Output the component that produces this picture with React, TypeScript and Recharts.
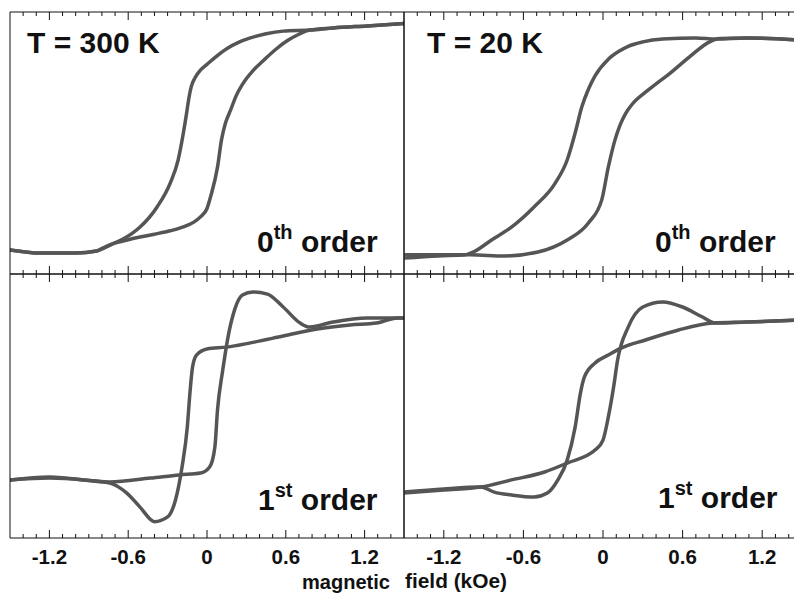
import React from 'react';
import { LineChart, Line, XAxis, YAxis } from 'recharts';

// ---------- tick data ----------
const MAJOR_TICKS = [-1.2, -0.6, 0, 0.6, 1.2];
const TICK_LABELS = ['-1.2', '-0.6', '0', '0.6', '1.2'];
const ALL_TICKS = [
  -1.4, -1.3, -1.2, -1.1, -1.0, -0.9, -0.8, -0.7, -0.6, -0.5, -0.4, -0.3, -0.2, -0.1, 0,
  0.1, 0.2, 0.3, 0.4, 0.5, 0.6, 0.7, 0.8, 0.9, 1.0, 1.1, 1.2, 1.3, 1.4,
];

// ---------- series: [field (kOe), signal (a.u., 0-100 of panel)] ----------
// T = 300 K, 0th order
const T300_ORDER0_DESC: [number, number][] = [
  [-1.5, 9.2], [-1.27, 8.0], [-1.0, 8.0], [-0.84, 8.8], [-0.78, 10.0], [-0.72, 11.5],
  [-0.64, 13.3], [-0.51, 17.9], [-0.38, 25.6], [-0.28, 34.7], [-0.22, 43.5], [-0.18, 53.8],
  [-0.155, 61.5], [-0.14, 66.5], [-0.12, 71.5], [-0.09, 75.0], [-0.05, 77.8], [0, 80.0],
  [0.06, 82.6], [0.15, 86.0], [0.24, 88.4], [0.33, 90.1], [0.45, 91.7], [0.58, 92.7],
  [0.78, 93.1], [0.96, 93.9], [1.22, 94.7], [1.5, 95.6],
];
const T300_ORDER0_ASC: [number, number][] = [
  [-1.5, 9.2], [-1.27, 8.0], [-1.0, 8.0], [-0.84, 8.8], [-0.79, 10.0], [-0.74, 11.1],
  [-0.68, 12.1], [-0.6, 13.1], [-0.5, 14.2], [-0.4, 15.2], [-0.28, 16.5], [-0.18, 18.0],
  [-0.1, 19.8], [-0.05, 21.8], [0.0, 25.0], [0.03, 30.0], [0.08, 40.8], [0.11, 51.1],
  [0.14, 57.5], [0.18, 62.6], [0.22, 67.8], [0.27, 72.4], [0.35, 77.6], [0.43, 81.5],
  [0.52, 85.6], [0.61, 89.0], [0.7, 91.5], [0.78, 93.1], [0.96, 93.9], [1.22, 94.7],
  [1.5, 95.6],
];
// T = 20 K, 0th order
const T20_ORDER0_DESC: [number, number][] = [
  [-1.5, 6.1], [-1.24, 6.9], [-1.04, 7.3], [-0.97, 8.6], [-0.84, 13.0], [-0.69, 17.9],
  [-0.52, 25.6], [-0.36, 34.7], [-0.27, 43.5], [-0.21, 53.8], [-0.16, 63.7], [-0.11, 70.5],
  [-0.06, 75.6], [0.04, 82.0], [0.12, 85.0], [0.19, 86.9], [0.3, 88.6], [0.45, 89.7],
  [0.7, 90.1], [0.85, 89.7], [1.08, 90.1], [1.5, 89.2],
];
const T20_ORDER0_ASC: [number, number][] = [
  [-1.5, 7.3], [-1.24, 7.3], [-1.0, 7.3], [-0.74, 6.9], [-0.49, 8.4], [-0.27, 13.0],
  [-0.11, 19.5], [-0.01, 28.2], [0.04, 40.8], [0.09, 51.1], [0.13, 57.0], [0.17, 61.2],
  [0.22, 64.8], [0.32, 69.4], [0.4, 72.6], [0.49, 76.0], [0.65, 82.8], [0.8, 88.5],
  [0.88, 89.9], [1.08, 90.1], [1.5, 89.2],
];
// T = 300 K, 1st order
const T300_ORDER1_DIP: [number, number][] = [
  [-1.5, 22.0], [-1.2, 22.7], [-0.94, 22.0], [-0.74, 20.8], [-0.61, 17.0], [-0.51, 11.7],
  [-0.4, 6.2], [-0.3, 8.0], [-0.24, 14.4], [-0.19, 26.9], [-0.15, 42.0], [-0.13, 54.9],
  [-0.11, 64.8], [-0.08, 69.3], [0, 71.6], [0.15, 72.3], [0.33, 73.9], [0.58, 76.5],
  [0.84, 79.2], [1.09, 80.7], [1.29, 81.4], [1.45, 83.3], [1.5, 83.3],
];
const T300_ORDER1_PEAK: [number, number][] = [
  [-1.5, 22.0], [-1.2, 23.1], [-0.74, 21.2], [-0.43, 22.7], [-0.21, 23.9], [-0.05, 24.6],
  [0.02, 26.9], [0.06, 34.5], [0.08, 48.5], [0.12, 63.6], [0.16, 76.1], [0.21, 86.4],
  [0.27, 92.0], [0.35, 93.2], [0.46, 92.4], [0.58, 87.5], [0.71, 81.4], [0.78, 79.9],
  [0.96, 81.8], [1.22, 83.3], [1.5, 83.3],
];
// T = 20 K, 1st order
const T20_ORDER1_DIP: [number, number][] = [
  [-1.5, 17.4], [-1.2, 18.6], [-0.92, 19.3], [-0.82, 17.4], [-0.69, 16.3], [-0.52, 15.5],
  [-0.42, 17.0], [-0.34, 22.0], [-0.27, 29.5], [-0.21, 42.0], [-0.17, 54.9], [-0.14, 61.0],
  [-0.06, 66.3], [0.04, 69.3], [0.14, 72.0], [0.32, 75.0], [0.57, 78.8], [0.83, 81.4],
  [1.08, 81.8], [1.5, 82.6],
];
const T20_ORDER1_PEAK: [number, number][] = [
  [-1.5, 17.0], [-1.2, 18.2], [-0.92, 19.3], [-0.69, 22.0], [-0.44, 25.0], [-0.27, 28.4],
  [-0.06, 33.3], [0, 37.1], [0.04, 45.8], [0.08, 57.2], [0.11, 67.4], [0.19, 79.9],
  [0.3, 87.5], [0.45, 89.4], [0.6, 87.5], [0.75, 83.7], [0.85, 81.4], [1.08, 81.8],
  [1.5, 82.6],
];

const toPts = (arr: [number, number][]) => arr.map(([x, y]) => ({ x, y }));

const INK = '#111';
const CURVE = '#555';
const FONT = '"Liberation Sans", Arial, Helvetica, sans-serif';
const M = 2; // chart margin
const AX = 1; // thin axis band

const isMajor = (v: number) => MAJOR_TICKS.some((m) => Math.abs(m - v) < 1e-6);

const makeBottomTick = (showLabels: boolean) => (props: any) => {
  const { x, y, payload } = props;
  const v = payload.value as number;
  const major = isMajor(v);
  const idx = MAJOR_TICKS.findIndex((m) => Math.abs(m - v) < 1e-6);
  return (
    <g>
      <line x1={x} x2={x} y1={y} y2={y - (major ? 8 : 4)} stroke={INK} strokeWidth={1} />
      {showLabels && major && (
        <text
          x={x}
          y={y + 26}
          textAnchor="middle"
          fontFamily={FONT}
          fontWeight="bold"
          fontSize={20.5}
          fill={INK}
        >
          {TICK_LABELS[idx]}
        </text>
      )}
    </g>
  );
};

const TopTick = (props: any) => {
  const { x, y, payload } = props;
  const major = isMajor(payload.value);
  return <line x1={x} x2={x} y1={y} y2={y + (major ? 8 : 4)} stroke={INK} strokeWidth={1} />;
};

type PanelProps = {
  left: number;
  top: number;
  w: number;
  h: number;
  series: [number, number][][];
  labels: boolean;
};

const Panel = ({ left, top, w, h, series, labels }: PanelProps) => {
  const bottomH = labels ? 40 : AX;
  return (
    <div style={{ position: 'absolute', left: left - M - AX, top: top - M - AX }}>
      <LineChart
        width={w + 2 * M + 2 * AX}
        height={h + 2 * M + AX + bottomH}
        margin={{ top: M, right: M, bottom: M, left: M }}
        style={{ overflow: 'visible' }}
      >
        <XAxis
          xAxisId={0}
          dataKey="x"
          type="number"
          domain={[-1.5, 1.5]}
          allowDataOverflow
          ticks={ALL_TICKS}
          interval={0}
          height={bottomH}
          tickSize={0}
          tickMargin={0}
          tickLine={false}
          axisLine={{ stroke: INK, strokeWidth: 1 }}
          tick={makeBottomTick(labels)}
        />
        <XAxis
          xAxisId="top"
          orientation="top"
          dataKey="x"
          type="number"
          domain={[-1.5, 1.5]}
          allowDataOverflow
          ticks={ALL_TICKS}
          interval={0}
          height={AX}
          tickSize={0}
          tickMargin={0}
          tickLine={false}
          axisLine={{ stroke: INK, strokeWidth: 1 }}
          tick={TopTick}
        />
        <YAxis
          yAxisId={0}
          type="number"
          domain={[0, 100]}
          width={AX}
          tick={false}
          tickLine={false}
          axisLine={{ stroke: INK, strokeWidth: 1 }}
        />
        <YAxis
          yAxisId="r"
          orientation="right"
          type="number"
          domain={[0, 100]}
          width={AX}
          tick={false}
          tickLine={false}
          axisLine={{ stroke: INK, strokeWidth: 1 }}
        />
        {series.map((s, i) => (
          <Line
            key={i}
            xAxisId={0}
            yAxisId={0}
            data={toPts(s)}
            dataKey="y"
            type="monotone"
            dot={false}
            activeDot={false}
            stroke={CURVE}
            strokeWidth={3.5}
            strokeLinejoin="round"
            strokeLinecap="round"
            isAnimationActive={false}
          />
        ))}
      </LineChart>
    </div>
  );
};

const txt = {
  fontFamily: FONT,
  fontWeight: 'bold' as const,
  fill: INK,
};

const OrderLabel = ({ x, y, num, sup }: { x: number; y: number; num: string; sup: string }) => (
  <text x={x} y={y} {...txt} fontSize={30}>
    {num}
    <tspan dy={-13} fontSize={20}>
      {sup}
    </tspan>
    <tspan dy={13} fontSize={30}>
      {' order'}
    </tspan>
  </text>
);

export default function App() {
  return (
    <div
      style={{
        position: 'absolute',
        left: 0,
        top: 0,
        width: 794,
        height: 593,
        overflow: 'hidden',
        background: '#fff',
      }}
    >
      <Panel left={10} top={12} w={394} h={262} series={[T300_ORDER0_DESC, T300_ORDER0_ASC]} labels={false} />
      <Panel left={404} top={12} w={398} h={262} series={[T20_ORDER0_DESC, T20_ORDER0_ASC]} labels={false} />
      <Panel left={10} top={274} w={394} h={264} series={[T300_ORDER1_DIP, T300_ORDER1_PEAK]} labels={true} />
      <Panel left={404} top={274} w={398} h={264} series={[T20_ORDER1_DIP, T20_ORDER1_PEAK]} labels={true} />
      <svg
        width={794}
        height={593}
        style={{ position: 'absolute', left: 0, top: 0, pointerEvents: 'none' }}
      >
        <text x={27} y={53} {...txt} fontSize={30}>T = 300 K</text>
        <text x={427} y={53} {...txt} fontSize={30}>T = 20 K</text>
        <OrderLabel x={257} y={252} num="0" sup="th" />
        <OrderLabel x={655} y={252} num="0" sup="th" />
        <OrderLabel x={258} y={510} num="1" sup="st" />
        <OrderLabel x={658} y={508} num="1" sup="st" />
        <text x={302} y={589} {...txt} fontSize={21} textLength={88} lengthAdjust="spacingAndGlyphs">
          magnetic
        </text>
        <text x={405} y={588} {...txt} fontSize={21} textLength={102} lengthAdjust="spacingAndGlyphs">
          field (kOe)
        </text>
      </svg>
    </div>
  );
}
